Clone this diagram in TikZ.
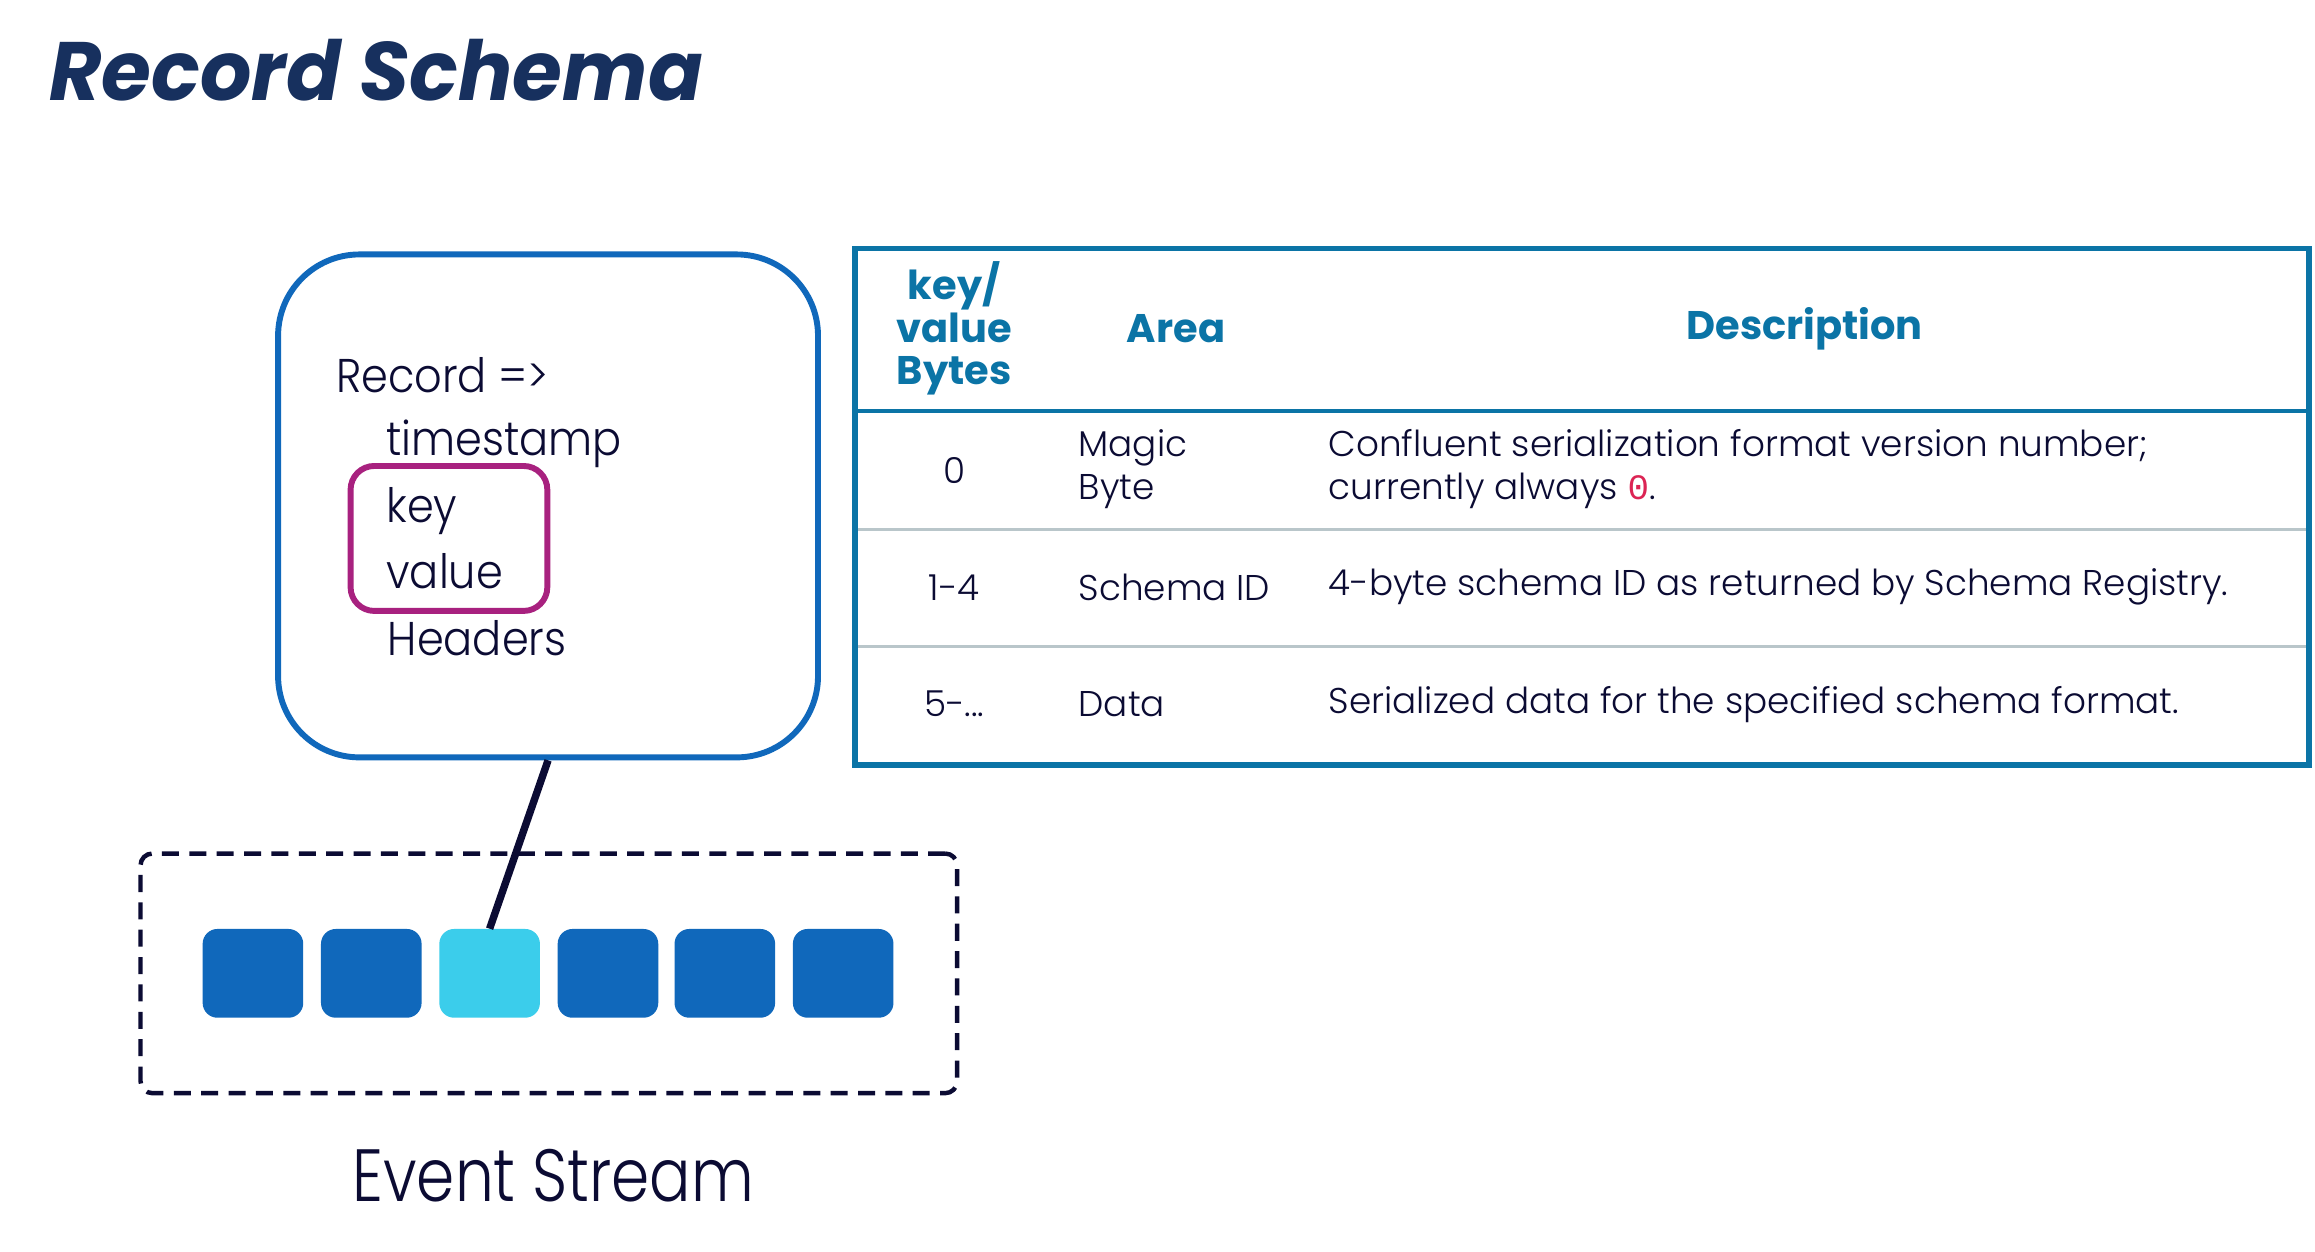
\documentclass[tikz,border=0pt]{standalone}
\usepackage{fontspec}
\setmainfont{Poppins}
\setmonofont{Liberation Mono}
\newfontfamily\lightfont{Poppins Light}
\definecolor{titlecol}{HTML}{17305E}
\definecolor{ink}{HTML}{0B0B33}
\definecolor{recblue}{HTML}{1068BB}
\definecolor{mag}{HTML}{A8217F}
\definecolor{cyanbox}{HTML}{3BCDEB}
\definecolor{tblue}{HTML}{0B74A6}
\definecolor{rowline}{HTML}{B9C6CA}
\definecolor{zero}{HTML}{DC2454}
\newcommand{\nar}[1]{\scalebox{0.91}[1]{#1}}
\tikzset{
  line/.style={anchor=base west, inner sep=0, text=ink, font=\lightfont\fontsize{32}{36}\selectfont},
  sq/.style={rounded corners=10, minimum width=68, minimum height=60, inner sep=0},
  hdr/.style={text=tblue, font=\fontsize{27}{29}\selectfont\bfseries, inner sep=0, align=center},
  cell/.style={text=ink, font=\lightfont\fontsize{24.2}{29}\selectfont, inner sep=0, align=left},
}
\begin{document}
\begin{tikzpicture}[x=1pt,y=-1pt]
\useasboundingbox[fill=white] (0,0) rectangle (1565,846);
% title
\node[anchor=base west, inner sep=0, text=titlecol] (title) at (33,68)
  {\fontsize{56}{60}\selectfont\bfseries\itshape\scalebox{0.974}[1]{Record Schema}};
% record box
\node[draw=recblue, line width=4, rounded corners=55, minimum width=365, minimum height=340] (rec) at (370.5,342) {};
\node[line] (l1) at (227,265) {\nar{Record =>}};
\node[line] (l2) at (261,308) {\nar{timestamp}};
\node[line] (l3) at (261,353) {\nar{key}};
\node[line] (l4) at (261,398) {\nar{value}};
\node[line] (l5) at (262,443) {\nar{Headers}};
\node[draw=mag, line width=4, rounded corners=16, minimum width=133, minimum height=98] (kv) at (303.5,364) {};
% event stream
\node[draw=ink, line width=3, dash pattern=on 11.5 off 7, rounded corners=8, minimum width=552, minimum height=162] (stream) at (371,658) {};
\node[sq, fill=recblue] (s1) at (171,658) {};
\node[sq, fill=recblue] (s2) at (251,658) {};
\node[sq, fill=cyanbox] (s3) at (331,658) {};
\node[sq, fill=recblue] (s4) at (411,658) {};
\node[sq, fill=recblue] (s5) at (490,658) {};
\node[sq, fill=recblue] (s6) at (570,658) {};
\draw[ink, line width=5] (rec.south) -- (s3.north);
\node[anchor=base, inner sep=0, text=ink] (es) at (374,812) {\lightfont\fontsize{50}{54}\selectfont\scalebox{0.83}[1]{Event Stream}};
% table
\node[draw=tblue, line width=4, minimum width=983, minimum height=349] (tbl) at (1069.5,342.5) {};
\draw[tblue, line width=2.5] (580,278) -- (1559,278);
\draw[rowline, line width=1.5] (580,358) -- (1559,358);
\draw[rowline, line width=1.5] (580,437) -- (1559,437);
\node[hdr] (h1) at (645,222) {key/\\value\\Bytes};
\node[hdr] (h2) at (795,222) {Area};
\node[hdr] (h3) at (1220,222) {Description};
\node[cell, anchor=center] (c11) at (645,318) {0};
\node[cell, anchor=west] (c12) at (729,317) {Magic\\Byte};
\node[cell, anchor=west] (c13) at (898,317) {Confluent serialization format version number;\\currently always {\color{zero}\ttfamily 0}.};
\node[cell, anchor=center] (c21) at (645,397) {1-4};
\node[cell, anchor=west] (c22) at (729,397) {Schema ID};
\node[cell, anchor=west] (c23) at (898,397) {4-byte schema ID as returned by Schema Registry.};
\node[cell, anchor=center] (c31) at (645,476) {5-...};
\node[cell, anchor=west] (c32) at (729,476) {Data};
\node[cell, anchor=west] (c33) at (898,476) {Serialized data for the specified schema format.};
\end{tikzpicture}
\end{document}
